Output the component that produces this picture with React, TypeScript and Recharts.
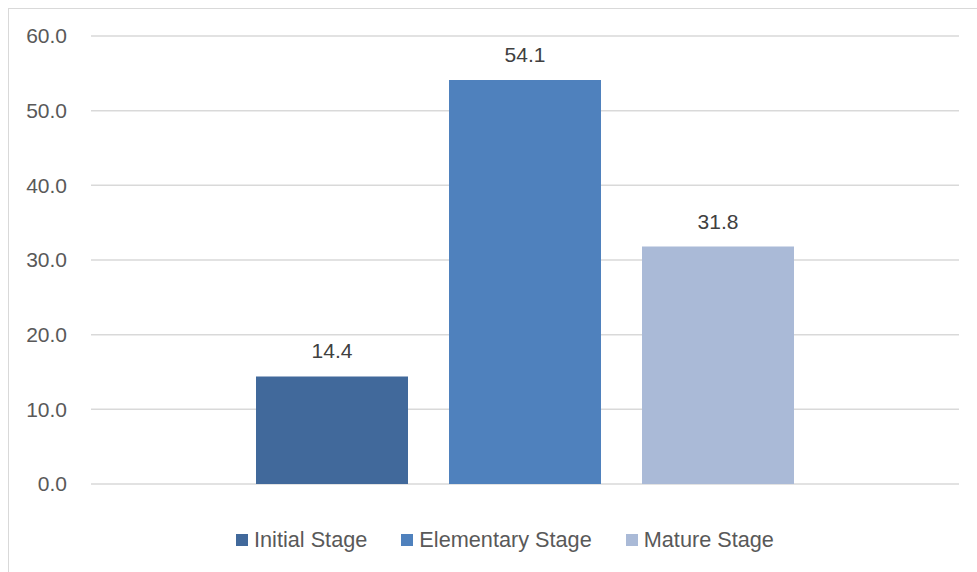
import { Bar, BarChart, CartesianGrid, LabelList, Legend, XAxis, YAxis } from "recharts";

const categories = [""];
const stageNames = ["Initial Stage", "Elementary Stage", "Mature Stage"];
const stageValues = [14.4, 54.1, 31.8];
const yTicks = [0, 10, 20, 30, 40, 50, 60];

const stageColors = ["#41699b", "#4f81bd", "#aabad7"];

const data = categories.map((category) => {
  const row: Record<string, string | number> = { category };
  stageNames.forEach((_, i) => {
    row[`s${i}`] = stageValues[i];
  });
  return row;
});

function StageLegend() {
  return (
    <div style={{ display: "flex", alignItems: "center", gap: 34, paddingLeft: 227 }}>
      {stageNames.map((name, i) => (
        <div key={name} style={{ display: "flex", alignItems: "center" }}>
          <span style={{ width: 12, height: 12, background: stageColors[i], marginRight: 6, display: "inline-block" }} />
          <span style={{ fontSize: 21.7, color: "#595959", lineHeight: "24px" }}>{name}</span>
        </div>
      ))}
    </div>
  );
}

export default function App() {
  return (
    <div
      style={{
        position: "absolute",
        left: 8,
        top: 8,
        width: 969,
        height: 564,
        boxSizing: "border-box",
        borderLeft: "1px solid #d9d9d9",
        borderTop: "1px solid #d9d9d9",
        fontFamily: "'Liberation Sans', Arial, sans-serif",
        background: "#fff",
      }}
    >
      <BarChart
        width={968}
        height={563}
        data={data}
        margin={{ top: 27, right: 18, left: 0, bottom: 88 }}
        barCategoryGap={165}
        barGap={41}
      >
        <CartesianGrid vertical={false} stroke="#d9d9d9" strokeWidth={1.5} />
        <XAxis dataKey="category" hide />
        <YAxis
          width={82}
          domain={[0, 60]}
          ticks={yTicks}
          interval={0}
          axisLine={false}
          tickLine={false}
          tickSize={0}
          tickMargin={24}
          tick={{ fill: "#595959", fontSize: 21 }}
          tickFormatter={(v: number) => v.toFixed(1)}
        />
        <Legend
          verticalAlign="middle"
          content={<StageLegend />}
          wrapperStyle={{ top: 519, left: 0, width: 968 }}
        />
        {stageNames.map((name, i) => (
          <Bar key={name} dataKey={`s${i}`} name={name} fill={stageColors[i]} isAnimationActive={false}>
            <LabelList
              dataKey={`s${i}`}
              position="top"
              offset={18}
              fill="#404040"
              fontSize={21}
              formatter={(v: number) => v.toFixed(1)}
            />
          </Bar>
        ))}
      </BarChart>
    </div>
  );
}
